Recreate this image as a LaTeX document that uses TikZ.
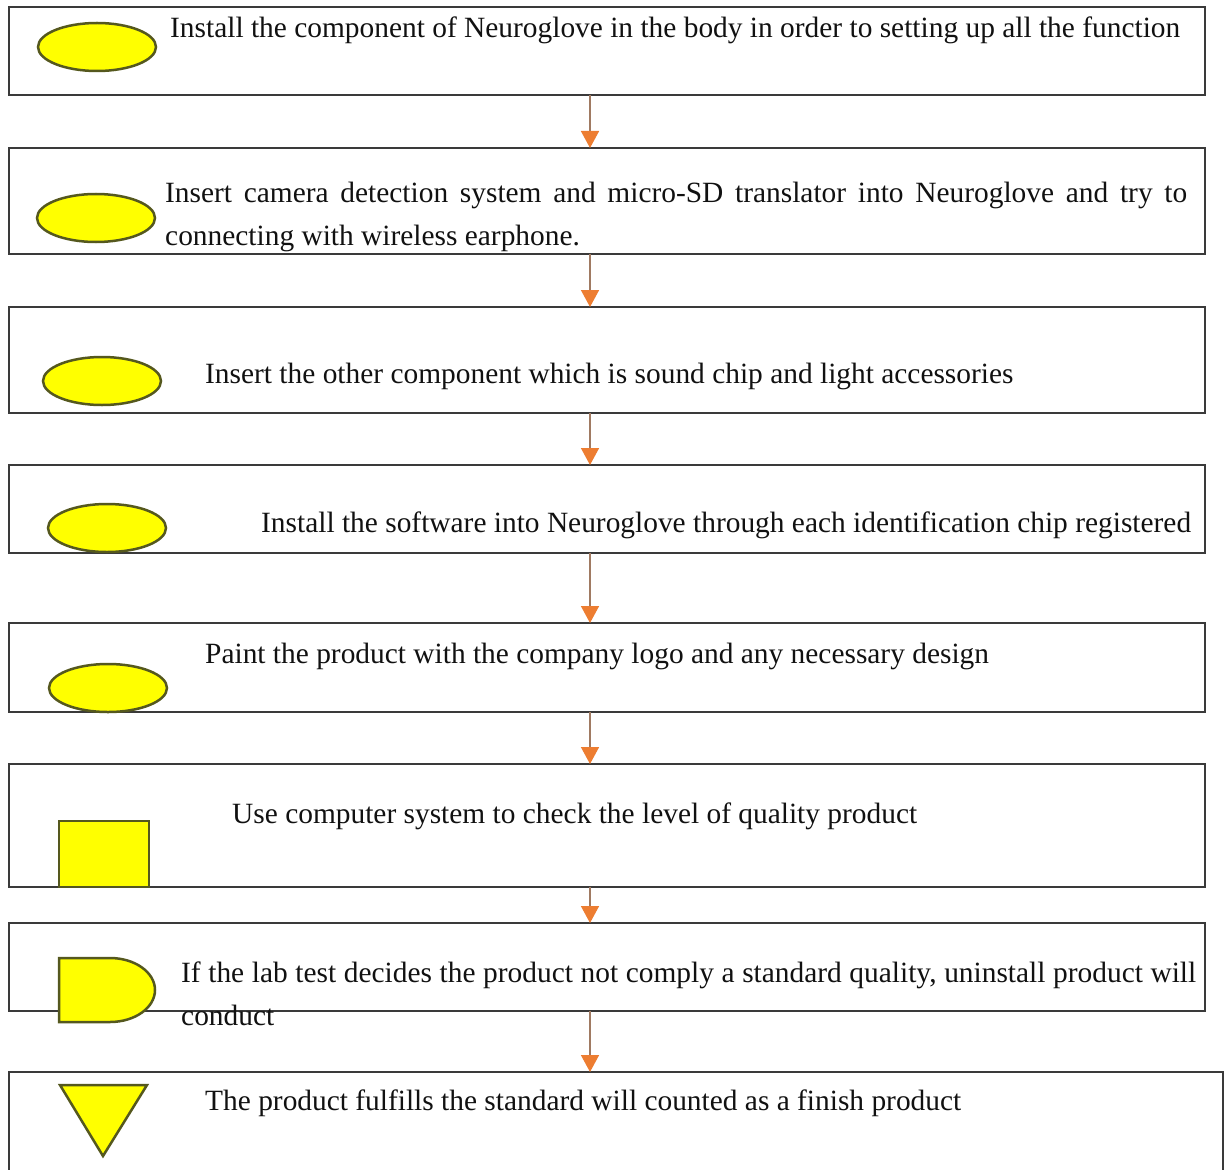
\documentclass[tikz,border=0pt]{standalone}
\usepackage{fontspec}
\setmainfont{Liberation Serif}
\usetikzlibrary{arrows.meta,shapes.geometric}
\definecolor{boxline}{HTML}{3A3A3A}
\definecolor{shapeline}{HTML}{55581E}
\definecolor{shapefill}{HTML}{FFFF00}
\definecolor{arrline}{HTML}{A07A62}
\definecolor{arrhead}{HTML}{ED7D31}
\definecolor{txtcol}{HTML}{111111}
\begin{document}
\begin{tikzpicture}[x=1pt,y=-1pt,
  stepbox/.style={draw=boxline, line width=2.2pt, inner sep=0pt, outer sep=0pt, anchor=north west, minimum width=1196pt},
  ybody/.style={draw=shapeline, fill=shapefill, line width=2.5pt},
  oval/.style={ybody, ellipse, inner sep=0pt, minimum width=118pt, minimum height=48pt},
  lbl/.style={inner sep=0pt, anchor=base west, font=\fontsize{29.4}{42}\selectfont, text=txtcol},
  flow/.style={draw=arrline, line width=1.5pt, -{Triangle[length=17pt,width=18pt,color=arrhead]}}
]
\path[use as bounding box, clip] (0,0) rectangle (1225,1169);
\fill[white] (0,0) rectangle (1225,1169);

% boxes
\node[stepbox, minimum height=88pt]  (b1) at (9,7) {};
\node[stepbox, minimum height=106pt] (b2) at (9,148) {};
\node[stepbox, minimum height=106pt] (b3) at (9,307) {};
\node[stepbox, minimum height=88pt]  (b4) at (9,465) {};
\node[stepbox, minimum height=89pt]  (b5) at (9,623) {};
\node[stepbox, minimum height=123pt] (b6) at (9,764) {};
\node[stepbox, minimum height=88pt]  (b7) at (9,923) {};
\node[stepbox, minimum height=130pt, minimum width=1214pt] (b8) at (9,1072) {};

% symbols
\node[oval] (e1) at (97,47) {};
\node[oval] (e2) at (96,218) {};
\node[oval] (e3) at (102,381) {};
\node[oval] (e4) at (107,528) {};
\node[oval] (e5) at (108,688) {};
\node[ybody, rectangle, inner sep=0pt, minimum width=90pt, minimum height=66pt] (sq) at (104,854) {};
\draw[ybody] (59,958) -- (110,958) arc[start angle=-90, end angle=90, x radius=45, y radius=32] -- (59,1022) -- cycle;
\draw[ybody, line join=miter] (60,1085) -- (147,1085) -- (103,1156) -- cycle;

% texts
\node[lbl] (t1) at (170,38) {Install the component of Neuroglove in the body in order to setting up all the function};
\node[lbl] (t2a) at (165,203) {\makebox[1022pt][s]{Insert camera detection system and micro-SD translator into Neuroglove and try to}};
\node[lbl] (t2b) at (165,245) {connecting with wireless earphone.};
\node[lbl] (t3) at (205,383) {Insert the other component which is sound chip and light accessories};
\node[lbl] (t4) at (261,532) {Install the software into Neuroglove through each identification chip registered};
\node[lbl] (t5) at (205,663) {Paint the product with the company logo and any necessary design};
\node[lbl] (t6) at (232,823) {Use computer system to check the level of quality product};
\node[lbl] (t7a) at (181,982) {\makebox[1015pt][s]{If the lab test decides the product not comply a standard quality, uninstall product will}};
\node[lbl] (t7b) at (181,1025) {conduct};
\node[lbl] (t8) at (205,1110) {The product fulfills the standard will counted as a finish product};

% connectors
\coordinate (ax) at (590,0);
\draw[flow] (ax |- b1.south) -- (ax |- b2.north);
\draw[flow] (ax |- b2.south) -- (ax |- b3.north);
\draw[flow] (ax |- b3.south) -- (ax |- b4.north);
\draw[flow] (ax |- b4.south) -- (ax |- b5.north);
\draw[flow] (ax |- b5.south) -- (ax |- b6.north);
\draw[flow] (ax |- b6.south) -- (ax |- b7.north);
\draw[flow] (ax |- b7.south) -- (ax |- b8.north);
\end{tikzpicture}
\end{document}
